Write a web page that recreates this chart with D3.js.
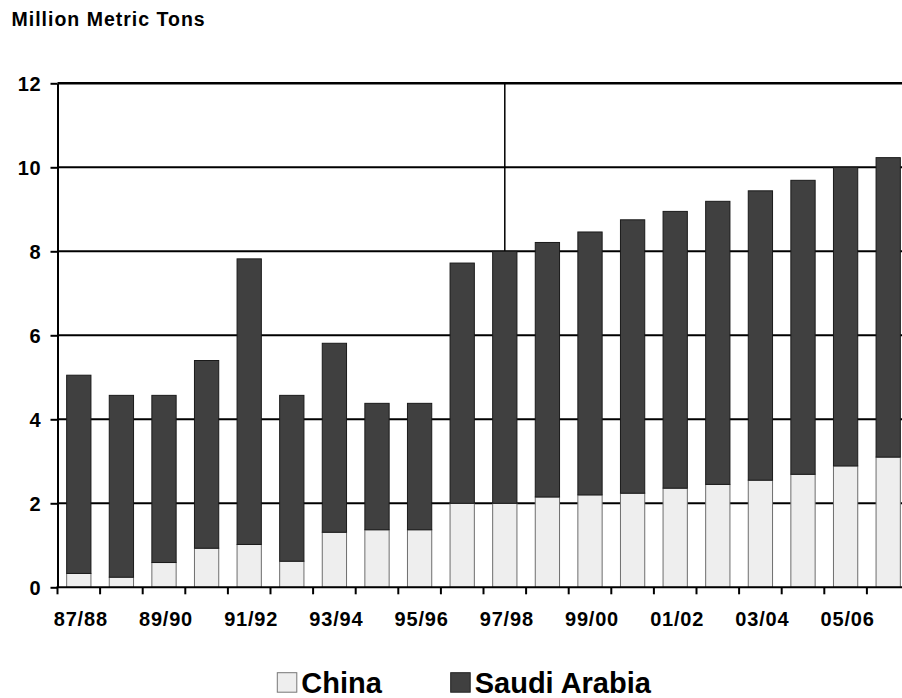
<!DOCTYPE html>
<html>
<head>
<meta charset="utf-8">
<script src="https://cdn.jsdelivr.net/npm/d3@7"></script>
<style>
  html, body { margin: 0; padding: 0; background: #ffffff; }
  svg { display: block; }
  text { font-family: "Liberation Sans", Arial, sans-serif; font-weight: bold; fill: #000; }
</style>
</head>
<body>
<svg id="chart" width="902" height="698"></svg>
<script>
// ---- Data ----
const categories = ["87/88","88/89","89/90","90/91","91/92","92/93","93/94","94/95","95/96","96/97",
                    "97/98","98/99","99/00","00/01","01/02","02/03","03/04","04/05","05/06","06/07"];
const china      = [0.33,0.24,0.59,0.93,1.02,0.62,1.31,1.37,1.37,2.00,
                    2.00,2.15,2.20,2.24,2.36,2.45,2.55,2.69,2.89,3.10];
const saudi      = [4.72,4.33,3.98,4.47,6.80,3.95,4.50,3.01,3.01,5.72,
                    6.00,6.06,6.26,6.51,6.59,6.74,6.89,7.00,7.11,7.13];
const yTicks     = [0,2,4,6,8,10,12];
const xLabels    = ["87/88","89/90","91/92","93/94","95/96","97/98","99/00","01/02","03/04","05/06"];
const seriesNames = ["China","Saudi Arabia"];
const markerCategory = "97/98";   // vertical marker line from top of chart down to this bar
const yTitle = "Million Metric Tons";

// ---- Layout ----
const svg = d3.select("#chart");
const plotLeft = 57.5, step = 42.6;
const plotRight = plotLeft + step * categories.length;
const plotTop = 83.3, plotBottom = 587.3;
const colors = { "China": "#eeeeee", "Saudi Arabia": "#404040" };
const strokes = { "China": "#6e6e6e", "Saudi Arabia": "#1a1a1a" };

const x = d3.scaleBand().domain(categories).range([plotLeft, plotRight]).paddingInner(0.43).paddingOuter(0.215);
const y = d3.scaleLinear().domain([0, 12]).range([plotBottom, plotTop]);

// title
svg.append("text").attr("x", 11.5).attr("y", 25.7).style("font-size", "19.5px")
  .style("letter-spacing", "1px").text(yTitle);

// gridlines
svg.append("g").selectAll("line").data(yTicks.filter(d => d > 0)).join("line")
  .attr("x1", plotLeft).attr("x2", plotRight)
  .attr("y1", d => y(d)).attr("y2", d => y(d))
  .attr("stroke", "#000").attr("stroke-width", d => d === 12 ? 2.5 : 2);

// vertical marker
const mi = categories.indexOf(markerCategory);
svg.append("line")
  .attr("x1", x(markerCategory) + x.bandwidth()/2).attr("x2", x(markerCategory) + x.bandwidth()/2)
  .attr("y1", y(12)).attr("y2", y(china[mi] + saudi[mi]))
  .attr("stroke", "#000").attr("stroke-width", 1.5);

// stacked bars
const rows = categories.map((c, i) => ({ cat: c, "China": china[i], "Saudi Arabia": saudi[i] }));
const stacked = d3.stack().keys(seriesNames)(rows);
svg.append("g").selectAll("g").data(stacked).join("g")
  .attr("fill", d => colors[d.key]).attr("stroke", d => strokes[d.key]).attr("stroke-width", 1)
  .selectAll("rect").data(d => d).join("rect")
  .attr("x", d => x(d.data.cat))
  .attr("width", x.bandwidth())
  .attr("y", d => y(d[1]))
  .attr("height", d => y(d[0]) - y(d[1]));

// y axis
const yAxis = d3.axisLeft(y).tickValues(yTicks).tickSize(7).tickSizeOuter(0).tickPadding(9);
const gy = svg.append("g").attr("transform", `translate(${plotLeft},0)`).call(yAxis);
gy.select(".domain").attr("stroke", "#000").attr("stroke-width", 2);
gy.selectAll(".tick line").attr("stroke", "#000").attr("stroke-width", 2);
gy.selectAll(".tick text").style("font-size", "20px").style("letter-spacing", "0.8px")
  .attr("font-family", null).attr("dy", "0.36em");
gy.attr("font-family", null).attr("font-size", null);

// x axis: ticks at band boundaries, labels at every other band center
const xEdge = d3.scaleLinear().domain([0, categories.length]).range([plotLeft, plotRight]);
const gx = svg.append("g").attr("transform", `translate(0,${plotBottom})`);
gx.append("line").attr("x1", plotLeft - 1).attr("x2", plotRight).attr("y1", 0).attr("y2", 0)
  .attr("stroke", "#000").attr("stroke-width", 2);
gx.selectAll("line.tk").data(d3.range(categories.length + 1)).join("line").attr("class", "tk")
  .attr("x1", d => xEdge(d)).attr("x2", d => xEdge(d)).attr("y1", 0).attr("y2", 7)
  .attr("stroke", "#000").attr("stroke-width", 2);
gx.selectAll("text").data(xLabels).join("text")
  .attr("x", d => x(d) + x.bandwidth()/2 + 2)
  .attr("y", 39)
  .attr("text-anchor", "middle")
  .style("font-size", "20px").style("letter-spacing", "0.8px")
  .text(d => d);

// legend
const legendX = [277.3, 450.7];
const lg = svg.append("g").selectAll("g").data(seriesNames).join("g")
  .attr("transform", (d, i) => `translate(${legendX[i]},672.7)`);
lg.append("rect").attr("width", 19.5).attr("height", 19.5)
  .attr("fill", d => colors[d]).attr("stroke", d => d === "China" ? "#777" : "#222").attr("stroke-width", 1);
lg.append("text").attr("x", 24).attr("y", 20).style("font-size", "29px").text(d => d);
</script>
</body>
</html>
